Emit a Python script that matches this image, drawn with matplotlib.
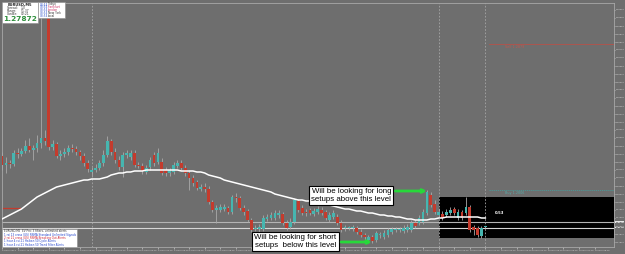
import numpy as np
import matplotlib
matplotlib.use("Agg")
from matplotlib import pyplot as plt
from matplotlib.patches import Rectangle
from matplotlib.transforms import blended_transform_factory

# prices are stored as pips above BASE
BASE = 1.2700
PIP = 0.0001

opens = [123, 118.5, 119.5, 119, 124.5, 124, 125.5, 128, 126, 127,
         129.5, 132, 206, 127.5, 129, 123, 124, 125, 127, 126.5,
         125, 123, 119.5, 115, 116, 117, 119.5, 123.5, 130.5, 125,
         121, 117.5, 123.5, 122.5, 124.5, 118.5, 118, 115, 117.5, 123.5,
         120, 120, 116, 114.5, 115, 118, 119.5, 117, 114.5, 112,
         110, 106.5, 107.5, 106.5, 100, 96, 96, 96.5, 97, 95,
         102.5, 102, 97, 95.5, 91, 86.5, 86.5, 86.5, 91.5, 92,
         92, 93.5, 94, 89.5, 87.5, 90, 100.5, 97, 95, 96,
         94, 95, 96, 95, 91, 92.5, 92.5, 89.5, 87, 87,
         87, 87, 85, 83.5, 81, 82.5, 81, 83.5, 82.5, 83.5,
         85, 86, 86, 85.5, 86, 86, 89.5, 89.5, 90, 94.5,
         103.5, 99, 93.5, 94, 93.5, 94.5, 96.5, 92, 95, 94.5,
         97.5, 87.5, 87, 83, 87.5]
closes = [118.5, 119.5, 119, 124.5, 124, 125.5, 128, 126, 127, 129.5,
          132, 130.5, 127.5, 129, 123, 124, 125, 127, 126.5, 125,
          123, 119.5, 116.5, 116, 117, 119.5, 123.5, 130.5, 125, 121,
          117.5, 123.5, 124.5, 124.5, 118.5, 118, 115.5, 117, 121, 119.5,
          124.5, 114.5, 114.5, 116, 118.5, 119.5, 117, 114.5, 112, 109.5,
          107, 107.5, 106.5, 100, 96, 97, 97.5, 97.5, 95, 102.5,
          102, 97, 95, 91, 86, 87, 87.5, 92, 92.5, 93.5,
          94.5, 94.5, 89.5, 87, 90, 101, 96, 94.5, 94.5, 94.5,
          95.5, 96.5, 94.5, 92, 93.5, 94.5, 89.5, 86, 87, 87,
          87, 85, 83.5, 82.5, 82.5, 80.5, 84.5, 83.5, 84.5, 86,
          86.5, 86, 86, 87, 87.5, 89.5, 88, 92, 95, 105,
          98.5, 95, 95, 92, 95, 96, 94.5, 95, 92, 97.5,
          86, 86, 83.5, 87, 87.5]
highs = [125, 122.5, 121, 126, 127, 127, 131, 132, 128.5, 133.5,
         206, 136, 206, 131, 130, 126, 127, 128.5, 129, 128,
         126, 124.5, 121, 117.5, 119, 121, 126, 133, 131.5, 127,
         123, 125, 126, 126, 126, 120, 119.5, 118.5, 122.5, 125,
         127, 122, 117.5, 117, 120, 121, 121, 118.5, 116, 113.5,
         111, 109, 109.5, 108, 101, 98.5, 99, 99, 98, 103.5,
         104.5, 103, 98.5, 96.5, 92, 88.5, 89, 93.5, 94, 95,
         96, 96, 95, 91, 92, 102, 101.5, 98.5, 96.5, 97,
         97, 98, 97.5, 96, 95, 96, 94, 91, 88.5, 88,
         88.5, 88, 86.5, 84.5, 83.5, 83.5, 85.5, 85, 86, 87,
         87.5, 87.5, 87.5, 88.5, 89, 91, 91, 93.5, 96.5, 106,
         105, 101, 97, 95.5, 96.5, 97.5, 97.5, 96.5, 96, 102.5,
         98.5, 88.5, 88, 88, 88]
lows = [116, 114.5, 117, 118, 122, 123, 124.5, 125, 121, 125,
        127, 128.5, 126, 126, 122, 121, 122.5, 123.5, 125, 123.5,
        121, 118, 115, 113, 115, 116, 118, 122.5, 123.5, 119.5,
        116, 112.5, 122, 121, 117.5, 117, 114, 114, 116, 118,
        119, 113.5, 113, 113, 114, 117, 116, 113, 106, 108,
        106, 105.5, 105, 99, 95, 89.5, 95, 95.5, 94, 94,
        100, 96, 93.5, 90, 85, 85.5, 85, 85.5, 90.5, 91,
        91, 92, 88.5, 86, 86.5, 89, 95, 93.5, 93, 93.5,
        93, 94, 93.5, 91, 90, 91.5, 88.5, 85, 85.5, 86,
        85.5, 84, 82.5, 81, 80, 79.5, 80, 82, 81.5, 82.5,
        84, 85, 85, 84.5, 85, 85, 87, 88.5, 89, 93.5,
        97.5, 94, 92.5, 91, 92.5, 93.5, 93.5, 91, 91, 93.5,
        85, 83.5, 82.5, 82, 87]
ma_values = [91.5, 92.5, 93.5, 94.5, 95.5, 96.5, 98, 99.5, 101, 102.5,
             103.5, 104.5, 105.5, 106.5, 107.5, 108, 108.5, 109, 109.5, 110,
             110.5, 111, 111, 111.5, 111.5, 111.5, 112, 112.5, 113.5, 114,
             114.5, 114.5, 115, 115, 115.5, 115.5, 115.5, 116, 116, 116,
             116, 116, 116, 116, 116, 116, 115.5, 115.5, 115.5, 115.5,
             115, 115, 114.5, 113.5, 113, 112.5, 112, 111, 110.5, 110,
             109.5, 109, 108.5, 108, 107.5, 107, 106.5, 106, 105.5, 105,
             104, 103.5, 103, 102.5, 102, 101.5, 101, 101, 100.5, 100.5,
             100, 99.5, 99, 98.5, 98.5, 98, 97.5, 97, 96.5, 96.5,
             96, 95.5, 95.5, 95, 94.5, 94.5, 94, 93.5, 93.5, 93,
             93, 92.5, 92.5, 92, 91.5, 91.5, 91, 91, 91, 91,
             91.5, 91.5, 92, 92, 92.5, 92.5, 92.5, 92.5, 92.5, 92.5,
             92.5, 92.5, 92.5, 92, 92]

bid = 1.27872
grey_level = 1.27900
old_level = 1.27970
zone_top = 1.28025
zone_bottom = 1.27820
zone_start = 112
sell_level = 1.28790
buy_level = 1.28060
session_breaks = [23, 112, 124]

o = BASE + np.array(opens) * PIP
c = BASE + np.array(closes) * PIP
h = BASE + np.array(highs) * PIP
l = BASE + np.array(lows) * PIP
ma = BASE + np.array(ma_values) * PIP
idx = np.arange(len(o))

BG = '#6e6e6e'
BULL = '#46b6b0'
BEAR = '#c43b2d'

fig = plt.figure(figsize=(6.25, 2.54), dpi=100, facecolor=BG)
ax = fig.add_axes([2 / 625, 7 / 254, 612 / 625, 244 / 254], facecolor=BG)
ax.set_xlim(0.08, 157.0)
ax.set_ylim(BASE + 77.5 * PIP, BASE + 199.5 * PIP)

# trading zone
ax.add_patch(Rectangle((zone_start, zone_bottom), 200, zone_top - zone_bottom,
                       facecolor='black', edgecolor='none', zorder=1))

for s in session_breaks:
    ax.axvline(s, color='#a6a6a6', lw=0.6, ls=(0, (2, 2)), zorder=1.5)

ax.axhline(grey_level, color='#b4b4b4', lw=0.8, zorder=2)
ax.axhline(bid, color='#d6d6d6', lw=0.8, zorder=2)
ax.plot([0, 4.7], [old_level, old_level], color='#c43b2d', lw=0.9, zorder=2)
ax.plot([125, 160], [sell_level, sell_level], color='#b5524a', lw=0.6, zorder=2)
ax.plot([125, 160], [buy_level, buy_level], color='#4a9a98', lw=0.6,
        ls=(0, (1.5, 1)), zorder=2)
ax.text(129, sell_level - 0.6 * PIP, 'Sell 1.2879', color='#c0584f',
        fontsize=2.4, va='top', zorder=3)
ax.text(129, buy_level - 0.6 * PIP, 'Buy 1.2806', color='#5aaaa8',
        fontsize=2.4, va='top', zorder=3)
ax.text(126.5, BASE + 94.5 * PIP, '0.53', color='white', fontsize=2.8,
        weight='bold', va='center', zorder=3)

# candles
up = c >= o
col = np.where(up, BULL, BEAR)
ax.vlines(idx, l, h, colors='#a9a9a9', lw=0.6, zorder=3)
body_lo = np.minimum(o, c)
body_h = np.maximum(np.abs(c - o), 0.3 * PIP)
ax.bar(idx, body_h, bottom=body_lo, width=0.7, color=col,
       edgecolor='none', zorder=4)

ax.plot(idx, ma, color='white', lw=1.1, zorder=5)

# frame and axes
for sp in ax.spines.values():
    sp.set_color('#a8a8a8')
    sp.set_linewidth(0.6)
ax.yaxis.tick_right()
yt = BASE + np.arange(80, 200, 4) * PIP
ax.set_yticks(yt)
ax.set_yticklabels(['%.5f' % v for v in yt])
ax.tick_params(axis='y', labelsize=1.5, colors='#dcdcdc', length=0.8,
               width=0.4, pad=0.3)

xt = np.arange(0, 153, 4)
xlabels = []
for k in range(len(xt)):
    hrs = 18 + k
    day = 13 + hrs // 24
    xlabels.append('%d May %02d:15' % (day, hrs % 24))
xlabels[0] = '13 May 2013'
ax.set_xticks(xt)
ax.set_xticklabels(xlabels, ha='left')
ax.tick_params(axis='x', labelsize=1.5, colors='#dcdcdc', length=1.5,
               width=0.4, pad=0.8)

trans = blended_transform_factory(ax.transAxes, ax.transData)
for v in (grey_level, bid):
    ax.text(1.002, v, '%.5f' % v, transform=trans, fontsize=1.5, color='black',
            va='center', ha='left', zorder=6,
            bbox=dict(boxstyle='square,pad=0.1', fc='#e6e6e6', ec='none'))

# notes
note_kw = dict(fontsize=5.7, family='Liberation Sans', color='black',
               ha='center', va='center', zorder=8, linespacing=1.05,
               bbox=dict(boxstyle='square,pad=0.25', fc='white', ec='black', lw=0.8))
ax.text(89.6, BASE + 103.3 * PIP, 'Will be looking for long\nsetups above this level',
        **note_kw)
ax.text(75.3, BASE + 80.2 * PIP, 'Will be looking for short\nsetups  below this level',
        clip_on=False, **note_kw)
arrow = dict(arrowstyle='-|>', color='#27d83a', lw=2.0, mutation_scale=5,
             shrinkA=0, shrinkB=0)
ax.annotate('', xy=(109.0, BASE + 105.5 * PIP), xytext=(100.9, BASE + 105.5 * PIP),
            arrowprops=arrow, zorder=8)
ax.annotate('', xy=(94.9, BASE + 80.0 * PIP), xytext=(87.0, BASE + 80.0 * PIP),
            arrowprops=arrow, zorder=8, annotation_clip=False)

# info panels (figure pixels)
ov = fig.add_axes([0, 0, 1, 1])
ov.set_xlim(0, 625)
ov.set_ylim(254, 0)
ov.axis('off')
ov.patch.set_alpha(0)

ov.add_patch(Rectangle((2, 2), 36, 21, fc='white', ec='#8a8a8a', lw=0.4))
ov.text(20, 5, 'EURUSD,M5', ha='center', va='center', fontsize=2.6,
        weight='bold', color='#222222')
for yy, name, val in [(8.3, 'Spread:', '1.0'), (11.0, 'Range:', '51.37'),
                      (13.7, 'Candle:', '02:21')]:
    ov.text(7, yy, name, ha='left', va='center', fontsize=2.2, color='#333333')
    ov.text(21, yy, val, ha='left', va='center', fontsize=2.2, color='#333333')
ov.text(20, 19.3, '1.27872', ha='center', va='center', fontsize=5.3,
        weight='bold', color='#2f8f3c')

ov.add_patch(Rectangle((38, 2), 27, 16, fc='white', ec='#8a8a8a', lw=0.4))
for k, (name, nc) in enumerate([('Tokyo', '#333333'), ('Frankfurt', '#cc3366'),
                                ('London', '#cc3366'), ('New York', '#333333'),
                                ('Local', '#333333')]):
    yy = 4.5 + 2.8 * k
    ov.text(39.5, yy, '08:54', ha='left', va='center', fontsize=2.1, color='#3355cc')
    ov.text(48, yy, name, ha='left', va='center', fontsize=2.1, color=nc)

ov.add_patch(Rectangle((2, 229), 75, 18, fc='white', ec='#8a8a8a', lw=0.4))
legend_lines = [('EURUSD,M5  EV Pro: 3 filters, unlimited alerts', '#333333'),
                ('1 rsi 13 cross (US) RSMA Standard Unlimited Signals', '#2244cc'),
                ('2 rsi 21 cross (US) RSMA Breaking Out Alerts', '#cc2233'),
                ('1 hour 4 rsi 21 Heiken 50 Cycle Alerts', '#2244cc'),
                ('1 hour 4 rsi 21 Heiken 50 Trend Filter Alerts', '#2244cc')]
for k, (txt, tc) in enumerate(legend_lines):
    ov.text(4, 231.5 + 3.3 * k, txt, ha='left', va='center', fontsize=2.0, color=tc)

fig.savefig('out.png', dpi=100, facecolor=BG)
